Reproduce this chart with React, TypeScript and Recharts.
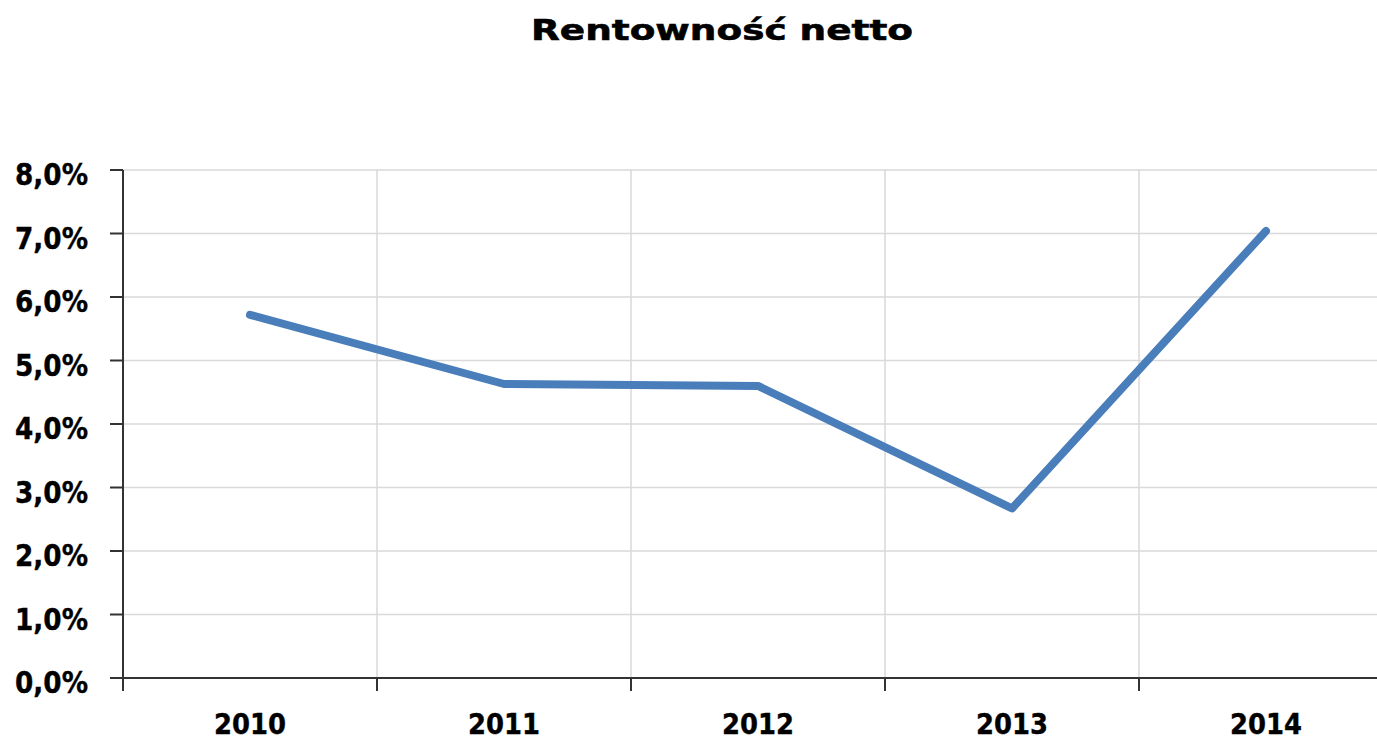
import { LineChart, Line, XAxis, YAxis, CartesianGrid } from 'recharts';

const lata = ['2010', '2011', '2012', '2013', '2014'];
const rentownosc = [5.72, 4.63, 4.6, 2.67, 7.04];
const tickiY = [0, 1, 2, 3, 4, 5, 6, 7, 8];

const chartData = lata.map((rok, i) => ({ rok, wartosc: rentownosc[i] }));

const FONT = '"DejaVu Sans", Verdana, sans-serif';
// the plot runs past the right edge of the picture (cropped like the original)
const CHART_W = 1393;
const CHART_H = 741;
const Y_AXIS_W = 123;
const BAND = (CHART_W - Y_AXIS_W) / lata.length;

const formatProcent = (v: number) => `${v.toFixed(1).replace('.', ',')}%`;

const TickY = ({ x, y, payload }: any) => (
  <text
    x={x}
    y={y + 15}
    textAnchor="end"
    fontFamily={FONT}
    fontWeight="bold"
    fontSize={30}
    fill="#000"
    stroke="#000"
    strokeWidth={0.4}
    textLength={73}
    lengthAdjust="spacingAndGlyphs"
  >
    {formatProcent(payload.value)}
  </text>
);

const TickX = ({ x, y, payload, axisY }: any) => (
  <g>
    <line x1={x - BAND / 2} x2={x - BAND / 2} y1={axisY} y2={axisY + 13} stroke="#333" strokeWidth={2} />
    <text
      x={x}
      y={y + 20}
      textAnchor="middle"
      fontFamily={FONT}
      fontWeight="bold"
      fontSize={29}
      fill="#000"
      stroke="#000"
      strokeWidth={0.4}
      textLength={72}
      lengthAdjust="spacingAndGlyphs"
    >
      {payload.value}
    </text>
  </g>
);

export default function App() {
  return (
    <div style={{ position: 'absolute', left: 0, top: 0, width: 1377, height: 741, overflow: 'hidden', background: '#fff' }}>
      <svg width={1377} height={60} style={{ position: 'absolute', left: 0, top: 0 }}>
        <text
          x={722}
          y={40}
          textAnchor="middle"
          fontFamily={FONT}
          fontWeight="bold"
          fontSize={29}
          fill="#000"
          stroke="#000"
          strokeWidth={0.6}
          textLength={382}
          lengthAdjust="spacingAndGlyphs"
        >
          Rentowność netto
        </text>
      </svg>
      <LineChart
        width={CHART_W}
        height={CHART_H}
        data={chartData}
        margin={{ top: 170, right: 0, bottom: 0, left: 0 }}
      >
        <CartesianGrid
          stroke="#d9d9d9"
          strokeWidth={1.5}
          verticalCoordinatesGenerator={({ offset }: any) =>
            lata.map((_, i) => offset.left + (i * offset.width) / lata.length)
          }
        />
        <XAxis
          dataKey="rok"
          scale="band"
          height={63}
          axisLine={{ stroke: '#333', strokeWidth: 2 }}
          tickLine={false}
          tickSize={0}
          tickMargin={36}
          tick={<TickX axisY={CHART_H - 63} />}
          interval={0}
        />
        <YAxis
          width={Y_AXIS_W}
          domain={[0, 8]}
          ticks={tickiY}
          axisLine={{ stroke: '#333', strokeWidth: 2 }}
          tickLine={{ stroke: '#333', strokeWidth: 2 }}
          tickSize={13}
          tickMargin={22}
          tick={<TickY />}
          interval={0}
        />
        <Line
          type="linear"
          dataKey="wartosc"
          stroke="#4a7ebb"
          strokeWidth={8}
          strokeLinecap="round"
          strokeLinejoin="round"
          dot={false}
          activeDot={false}
          isAnimationActive={false}
        />
      </LineChart>
    </div>
  );
}
